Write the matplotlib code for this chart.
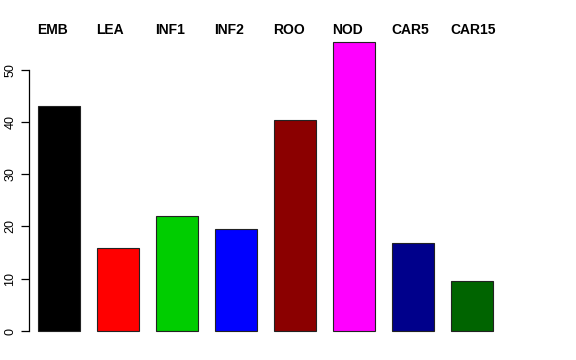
import matplotlib.pyplot as plt
import matplotlib.transforms as mtransforms

plt.rcParams['font.family'] = ['Liberation Sans', 'DejaVu Sans']

tissues = ["EMB", "LEA", "INF1", "INF2", "ROO", "NOD", "CAR5", "CAR15"]
values = [43.1, 15.9, 22.0, 19.5, 40.4, 55.2, 16.9, 9.6]
colors = ["#000000", "#ff0000", "#00cd00", "#0000ff", "#8b0000", "#ff00ff", "#00008b", "#006400"]

fig = plt.figure(figsize=(5.76, 3.6), dpi=100)
# axes placed to match R's plot region
ax = fig.add_axes([29 / 576, 1 - 342.5 / 360, (522 - 29) / 576, (342.5 - 31) / 360])

x = list(range(len(tissues)))
width = 0.7
ax.bar(x, values, width=width, color=colors, edgecolor="#222222", linewidth=0.8)

ax.set_xlim(-0.508, 7.847)
ax.set_ylim(-2.2, 57.4)

for s in ["top", "right", "bottom"]:
    ax.spines[s].set_visible(False)
ax.spines["left"].set_bounds(0, 50)
ax.spines["left"].set_linewidth(0.9)
ax.set_xticks([])
ax.set_yticks([0, 10, 20, 30, 40, 50])
ax.set_yticklabels(["0", "10", "20", "30", "40", "50"], rotation=90, va="center", fontsize=9)
ax.tick_params(axis="y", length=6, width=0.9, pad=3)

trans = mtransforms.blended_transform_factory(ax.transData, fig.transFigure)
for xi, name in zip(x, tissues):
    ax.text(xi - width / 2 - 0.02, 1 - 30 / 360, name, transform=trans,
            ha="left", va="center", fontsize=10, fontweight="bold")

fig.savefig("out.png", dpi=100)
